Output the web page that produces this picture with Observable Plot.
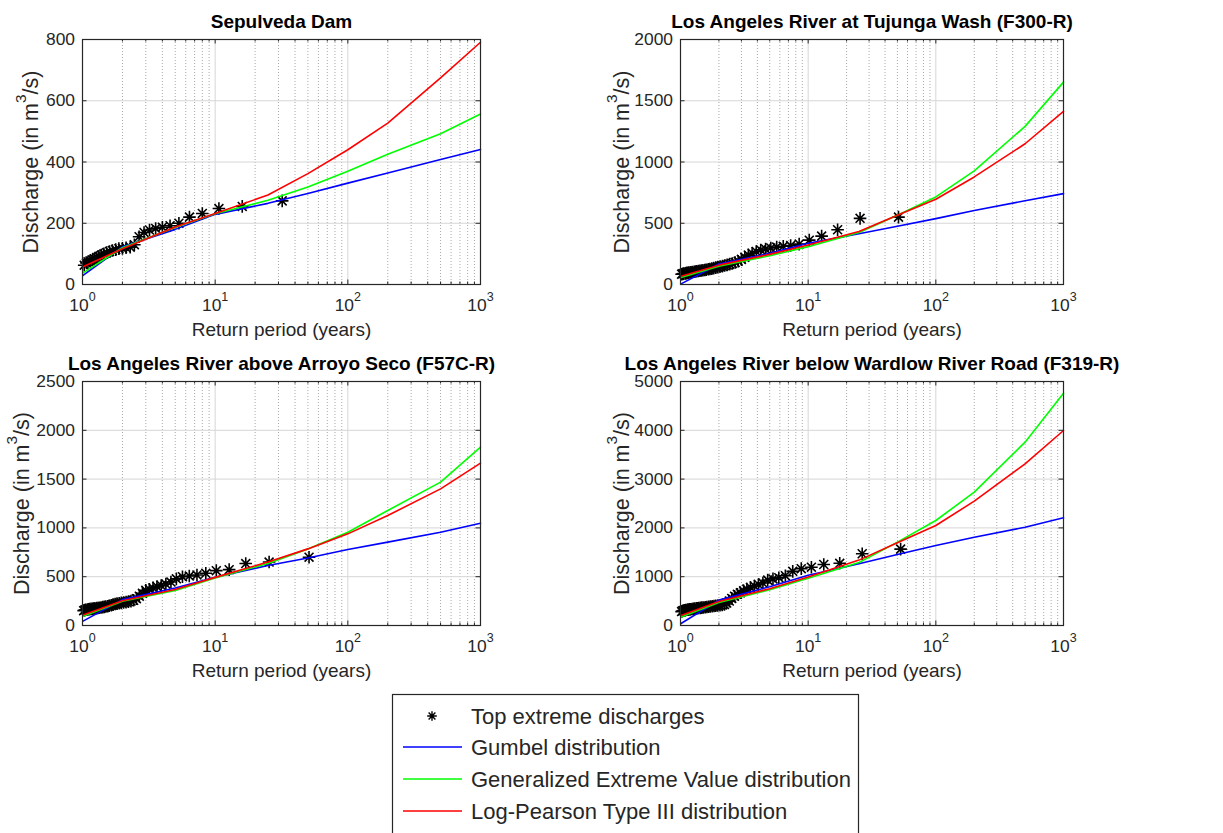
<!DOCTYPE html>
<html><head><meta charset="utf-8">
<script src="https://cdn.jsdelivr.net/npm/d3@7"></script>
<script src="https://cdn.jsdelivr.net/npm/@observablehq/plot@0.6"></script>
<style>
body{margin:0;background:#fff;}
#root{position:relative;width:1223px;height:833px;overflow:hidden;background:#fff;font-family:"Liberation Sans",Arial,Helvetica,sans-serif;}
.panel{position:absolute;}
</style></head><body><div id="root"></div>
<script>
// ---------- data ----------
const curveT = [1.01, 2, 5, 10, 25, 50, 100, 200, 500, 1000];

// Sepulveda Dam
const sepT = [32,16,10.67,8,6.4,5.33,4.57,4,3.56,3.2,2.91,2.67,2.46,2.29,2.13,2,1.88,1.78,1.68,1.6,1.52,1.45,1.39,1.33,1.28,1.23,1.19,1.14,1.1,1.07,1.03];
const sepQ = [273,255,248,232,220,200,192,187,183,178,170,156,130,122,120,118,117,114,111,108,104,100,96,92,88,84,80,77,74,70,63];
const sepGumbel = [30,123,180,229,265,297,331,364,408,441];
const sepGEV    = [38,120,186,231,275,318,370,425,492,557];
const sepLP3    = [58,117,188,232,292,362,440,527,675,791];

// Tujunga Wash
const tujT = [51,25.5,17,12.75,10.2,8.5,7.29,6.38,5.67,5.1,4.64,4.25,3.92,3.64,3.4,3.19,3,2.83,2.68,2.55,2.43,2.32,2.22,2.13,2.04,1.96,1.89,1.82,1.76,1.7,1.65,1.59,1.55,1.5,1.46,1.42,1.38,1.34,1.31,1.28,1.24,1.21,1.19,1.16,1.13,1.11,1.09,1.06,1.04,1.02];
const tujQ = [550,540,447,395,362,330,318,312,305,298,290,282,270,255,240,222,205,190,180,172,166,160,155,150,146,142,138,134,130,127,124,121,118,116,114,112,110,108,106,104,102,100,98,97,95,93,91,89,87,84];
const tujGumbel = [5,167,254,336,415,476,538,604,683,742];
const tujGEV    = [57,150,235,309,425,565,715,927,1291,1652];
const tujLP3    = [68,158,246,322,432,565,696,878,1149,1413];

// Arroyo Seco
const arrT = [51,25.5,17,12.75,10.2,8.5,7.29,6.38,5.67,5.1,4.64,4.25,3.92,3.64,3.4,3.19,3,2.83,2.68,2.55,2.43,2.32,2.22,2.13,2.04,1.96,1.89,1.82,1.76,1.7,1.65,1.59,1.55,1.5,1.46,1.42,1.38,1.34,1.31,1.28,1.24,1.21,1.19,1.16,1.13,1.11,1.09,1.06,1.04,1.02];
const arrQ = [700,650,635,572,562,535,518,507,500,478,445,425,410,400,385,372,360,330,300,275,258,250,245,240,236,232,228,224,220,214,208,202,198,194,191,188,185,182,180,178,176,174,172,170,168,166,164,162,158,152];
const arrGumbel = [45,265,385,495,615,692,779,854,956,1048];
const arrGEV    = [95,248,360,488,635,785,956,1178,1469,1827];
const arrLP3    = [108,253,368,493,650,785,939,1127,1400,1663];

// Wardlow River Road
const warT = [53,26.5,17.67,13.25,10.6,8.83,7.57,6.63,5.89,5.3,4.82,4.42,4.08,3.79,3.53,3.31,3.12,2.94,2.79,2.65,2.52,2.41,2.3,2.21,2.12,2.04,1.96,1.89,1.83,1.77,1.71,1.66,1.61,1.56,1.51,1.47,1.43,1.39,1.36,1.33,1.29,1.26,1.23,1.2,1.18,1.15,1.13,1.1,1.08,1.06,1.04,1.02];
const warQ = [1565,1470,1275,1250,1195,1165,1110,1020,980,955,930,870,840,810,780,745,710,670,640,600,555,500,460,430,420,415,410,405,400,395,390,385,380,375,370,366,362,358,354,350,346,342,338,334,330,326,322,318,313,308,300,285];
const warGumbel = [40,520,795,1030,1264,1455,1639,1810,2015,2206];
const warGEV    = [172,470,735,970,1290,1708,2152,2732,3757,4761];
const warLP3    = [207,490,755,995,1340,1694,2049,2548,3313,3996];

// ticks & labels
const majorX = [1,10,100,1000];
const majorXLabels = ["10^0","10^1","10^2","10^3"];
const minorX = [2,3,4,5,6,7,8,9,20,30,40,50,60,70,80,90,200,300,400,500,600,700,800,900];
const sepYTicks = [0,200,400,600,800];
const tujYTicks = [0,500,1000,1500,2000];
const arrYTicks = [0,500,1000,1500,2000,2500];
const warYTicks = [0,1000,2000,3000,4000,5000];

const titles = ["Sepulveda Dam","Los Angeles River at Tujunga Wash (F300-R)","Los Angeles River above Arroyo Seco (F57C-R)","Los Angeles River below Wardlow River Road (F319-R)"];
const xLabel = "Return period (years)";
const yLabel = "Discharge (in m^3/s)";
const legendLabels = ["Top extreme discharges","Gumbel distribution","Generalized Extreme Value distribution","Log-Pearson Type III distribution"];
const seriesColors = ["#000000","#0000ff","#00ff00","#ff0000"];

// ---------- drawing ----------
const FONT = "'Liberation Sans', Arial, Helvetica, sans-serif";
const AX = "#262626";
const asterisk8 = {
  draw(ctx, size) {
    const r = Math.sqrt(size / Math.PI), d = r * Math.SQRT1_2;
    ctx.moveTo(-r, 0); ctx.lineTo(r, 0);
    ctx.moveTo(0, -r); ctx.lineTo(0, r);
    ctx.moveTo(-d, -d); ctx.lineTo(d, d);
    ctx.moveTo(-d, d); ctx.lineTo(d, -d);
  }
};

function supers(svg) {
  svg.querySelectorAll("text").forEach(t => {
    const s = t.textContent;
    const m = s.match(/^(.*)\^(\d)(.*)$/);
    if (m) {
      t.innerHTML = m[1] + `<tspan font-size="72%" dy="-0.8em">${m[2]}</tspan>` + (m[3] ? `<tspan dy="0.576em">${m[3]}</tspan>` : "");
    }
  });
}

function panel(c) {
  const ph = c.height - c.mT - c.mB, pw = c.width - c.mL - c.mR;
  const stars = c.T.map((t, i) => ({T: t, Q: c.Q[i]}));
  const curve = v => curveT.map((t, i) => ({T: t, Q: v[i]}));
  const svg = Plot.plot({
    width: c.width, height: c.height,
    marginLeft: c.mL, marginRight: c.mR, marginTop: c.mT, marginBottom: c.mB,
    x: {type: "log", domain: [1, 1000], axis: null},
    y: {domain: [0, c.yTicks[c.yTicks.length - 1]], axis: null},
    style: {fontFamily: FONT, background: "transparent", overflow: "visible"},
    marks: [
      Plot.ruleX(minorX, {stroke: "#a8a8a8", strokeDasharray: "1,2"}),
      Plot.ruleX(majorX.slice(1, -1), {stroke: "#d6d6d6"}),
      Plot.ruleY(c.yTicks.slice(1, -1), {stroke: "#d6d6d6"}),
      Plot.dot(stars, {x: "T", y: "Q", symbol: asterisk8, r: 6.3, stroke: seriesColors[0], strokeWidth: 1.6, fill: "none"}),
      Plot.line(curve(c.gumbel), {x: "T", y: "Q", stroke: seriesColors[1], strokeWidth: 1.6}),
      Plot.line(curve(c.gev), {x: "T", y: "Q", stroke: seriesColors[2], strokeWidth: 1.6}),
      Plot.line(curve(c.lp3), {x: "T", y: "Q", stroke: seriesColors[3], strokeWidth: 1.6}),
      Plot.tickX(minorX, {x: d => d, insetTop: ph - 2.5, stroke: AX}),
      Plot.tickX(minorX, {x: d => d, insetBottom: ph - 2.5, stroke: AX}),
      Plot.tickX(majorX, {x: d => d, insetTop: ph - 4.5, stroke: AX}),
      Plot.tickX(majorX, {x: d => d, insetBottom: ph - 4.5, stroke: AX}),
      Plot.tickY(c.yTicks, {y: d => d, insetRight: pw - 4.5, stroke: AX}),
      Plot.tickY(c.yTicks, {y: d => d, insetLeft: pw - 4.5, stroke: AX}),
      Plot.frame({stroke: AX, strokeWidth: 1.2}),
      Plot.text(c.yTicks, {y: d => d, text: d => String(d), frameAnchor: "left", textAnchor: "end", dx: -7.5, fontSize: 17.4, fill: AX}),
      Plot.text(majorX, {x: d => d, text: (d, i) => majorXLabels[i], frameAnchor: "bottom", lineAnchor: "top", dy: 14, fontSize: 17.4, fill: AX}),
      Plot.text([xLabel], {frameAnchor: "bottom", lineAnchor: "top", dy: 38, fontSize: 19, fill: AX}),
      Plot.text([yLabel], {frameAnchor: "left", textAnchor: "middle", lineAnchor: "middle", rotate: -90, dx: -c.labelOffset, fontSize: 21.5, fill: AX}),
      Plot.text([c.title], {frameAnchor: "top", textAnchor: "middle", lineAnchor: "bottom", dy: -12, fontSize: 19, fontWeight: "bold", fill: "#000"})
    ]
  });
  supers(svg);
  const div = document.createElement("div");
  div.className = "panel";
  div.style.left = c.left + "px";
  div.style.top = c.top + "px";
  div.appendChild(svg);
  document.getElementById("root").appendChild(div);
}

panel({left: 0, top: 0, width: 600, height: 340, mL: 82, mR: 120, mT: 39, mB: 56, labelOffset: 51,
  yTicks: sepYTicks, T: sepT, Q: sepQ, gumbel: sepGumbel, gev: sepGEV, lp3: sepLP3, title: titles[0]});
panel({left: 600, top: 0, width: 623, height: 340, mL: 80, mR: 160, mT: 39, mB: 56, labelOffset: 58,
  yTicks: tujYTicks, T: tujT, Q: tujQ, gumbel: tujGumbel, gev: tujGEV, lp3: tujLP3, title: titles[1]});
panel({left: 0, top: 340, width: 600, height: 340, mL: 82, mR: 120, mT: 41, mB: 55, labelOffset: 60,
  yTicks: arrYTicks, T: arrT, Q: arrQ, gumbel: arrGumbel, gev: arrGEV, lp3: arrLP3, title: titles[2]});
panel({left: 600, top: 340, width: 623, height: 340, mL: 80, mR: 160, mT: 41, mB: 55, labelOffset: 58,
  yTicks: warYTicks, T: warT, Q: warQ, gumbel: warGumbel, gev: warGEV, lp3: warLP3, title: titles[3]});

// ---------- legend ----------
const lg = d3.select("#root").append("svg")
  .attr("width", 1223).attr("height", 833)
  .style("position", "absolute").style("left", "0px").style("top", "0px")
  .style("pointer-events", "none");
lg.append("rect").attr("x", 392.5).attr("y", 694.5).attr("width", 466).attr("height", 200)
  .attr("fill", "#fff").attr("stroke", AX).attr("stroke-width", 1.2);
const rowY = [716, 747, 779, 811];
legendLabels.forEach((lab, i) => {
  const y = rowY[i];
  if (i === 0) {
    lg.append("path").attr("d", d3.symbol(asterisk8, 4.8 * 4.8 * Math.PI)())
      .attr("transform", `translate(432,${y})`).attr("stroke", seriesColors[0]).attr("stroke-width", 1.4).attr("fill", "none");
  } else {
    lg.append("line").attr("x1", 403).attr("x2", 462).attr("y1", y).attr("y2", y)
      .attr("stroke", seriesColors[i]).attr("stroke-width", 1.6);
  }
  lg.append("text").attr("x", 471).attr("y", y).attr("dy", "0.35em")
    .attr("font-family", FONT).attr("font-size", 22).attr("fill", AX).text(lab);
});
</script></body></html>
